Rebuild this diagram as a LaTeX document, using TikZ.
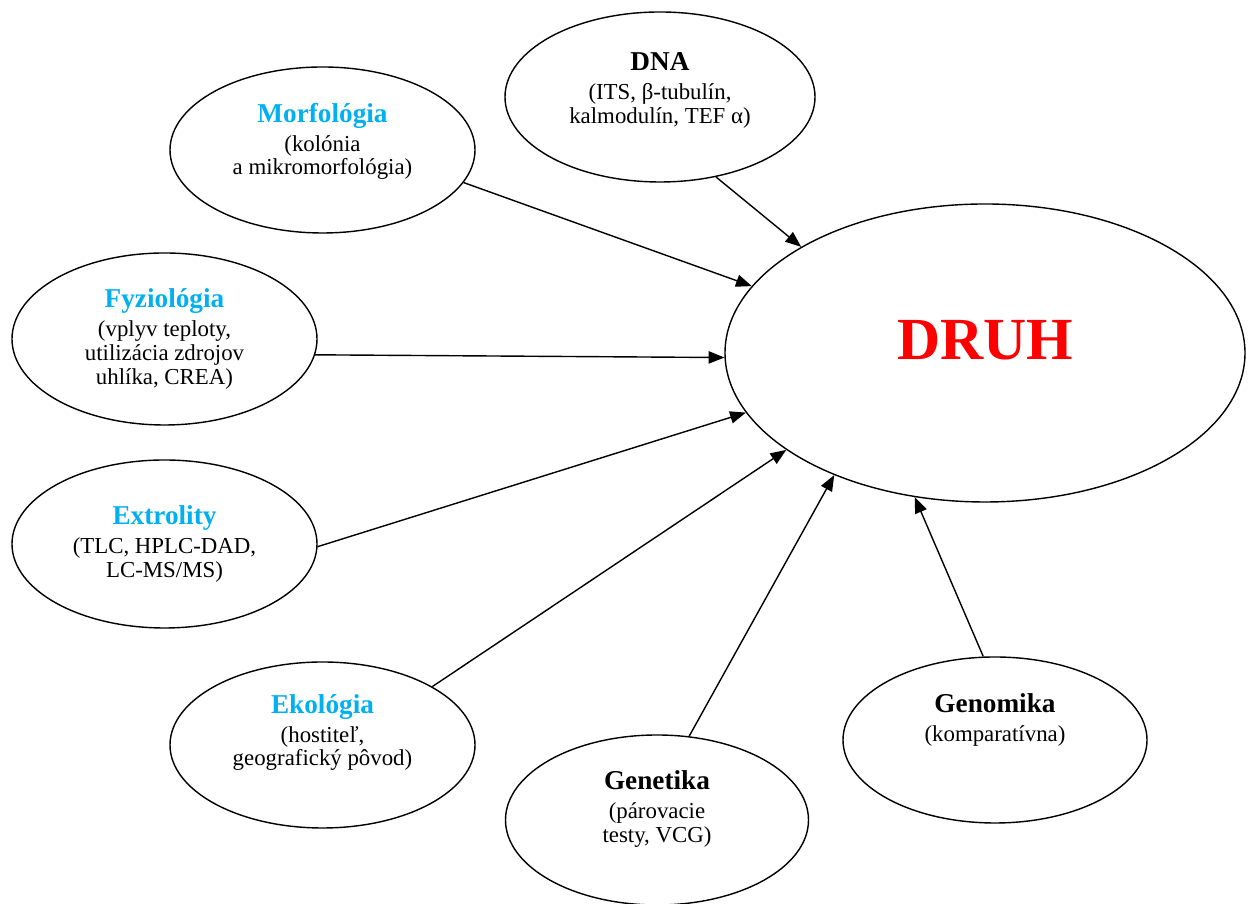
\documentclass[tikz,border=0pt]{standalone}
\usepackage{fontspec}
\setmainfont{Liberation Serif}
\usepackage{tikz}
\usetikzlibrary{shapes.geometric, arrows.meta, positioning}
\definecolor{titleblue}{HTML}{00B0F0}
\definecolor{druhred}{HTML}{FF0000}
\newcommand{\nadpis}[2][black]{{\fontsize{15.5}{17}\selectfont\bfseries\color{#1}#2}}
\newcommand{\luft}[1]{\\[#1]\mbox{}}
\tikzset{
	factor/.style={ellipse, draw=black, line width=0.8pt, minimum width=6.1cm, minimum height=3.36cm, inner sep=1pt, align=center, font=\fontsize{13}{13.5}\selectfont},
	druhnode/.style={ellipse, draw=black, line width=0.8pt, minimum width=10.4cm, minimum height=5.96cm, font=\fontsize{34}{36}\selectfont\bfseries, text=druhred},
	arrow/.style={line width=0.8pt,-{Triangle[length=9pt, width=7pt]}}
}

\begin{document}
\begin{tikzpicture}
		\useasboundingbox (0,0) rectangle (25.08,18.08);
		% Stredny uzol
		\node (druh) [druhnode] at (19.70,11.02) {\raisebox{15pt}{DRUH}};
		
		% Horny rad a lavy okraj
		\node (dna) [factor, minimum width=6.2cm, minimum height=3.4cm] at (13.20,16.14) {\nadpis{DNA}\\[3pt] (ITS, β-tubulín,\\ kalmodulín, TEF α)\luft{-3pt}};
		\node (morf) [factor, minimum height=3.32cm] at (6.45,15.08) {\nadpis[titleblue]{Morfológia}\\[3pt] (kolónia\\ a mikromorfológia)\luft{-1pt}};
		\node (fyz) [factor, minimum height=3.44cm] at (3.29,11.30) {\nadpis[titleblue]{Fyziológia}\\[3pt] (vplyv teploty,\\ utilizácia zdrojov\\ uhlíka, CREA)};
		\node (extr) [factor] at (3.29,7.20) {\nadpis[titleblue]{Extrolity}\\[3pt] (TLC, HPLC-DAD,\\ LC-MS/MS)};
		
		% Dolny rad
		\node (eko) [factor, minimum height=3.32cm] at (6.45,3.18) {\nadpis[titleblue]{Ekológia}\\[3pt] (hostiteľ,\\ geografický pôvod)\luft{3.5pt}};
		\node (genet) [factor, minimum width=6.06cm, minimum height=3.4cm] at (13.14,1.68) {\nadpis{Genetika}\\[3pt] (párovacie\\ testy, VCG)\luft{1.5pt}};
		\node (genom) [factor, minimum width=6.08cm, minimum height=3.32cm] at (19.90,3.28) {\nadpis{Genomika}\\[3pt] (komparatívna)\luft{12pt}};
		
		% Spojenia do stredu
		\draw [arrow] (morf.-13.2) -- (druh.164.9);
		\draw [arrow] (dna.-55.5) -- (druh.150.5);
		\draw [arrow] (fyz.-6.7) -- (druh.181);
		\draw [arrow] (extr.-1.5) -- (druh.194);
		\draw [arrow] (eko.28.9) -- (druh.206.8);
		\draw [arrow] (genet.69.2) -- (druh.219.8);
		\draw [arrow] (genom.98.9) -- (druh.244.1);
	\end{tikzpicture}
\end{document}
